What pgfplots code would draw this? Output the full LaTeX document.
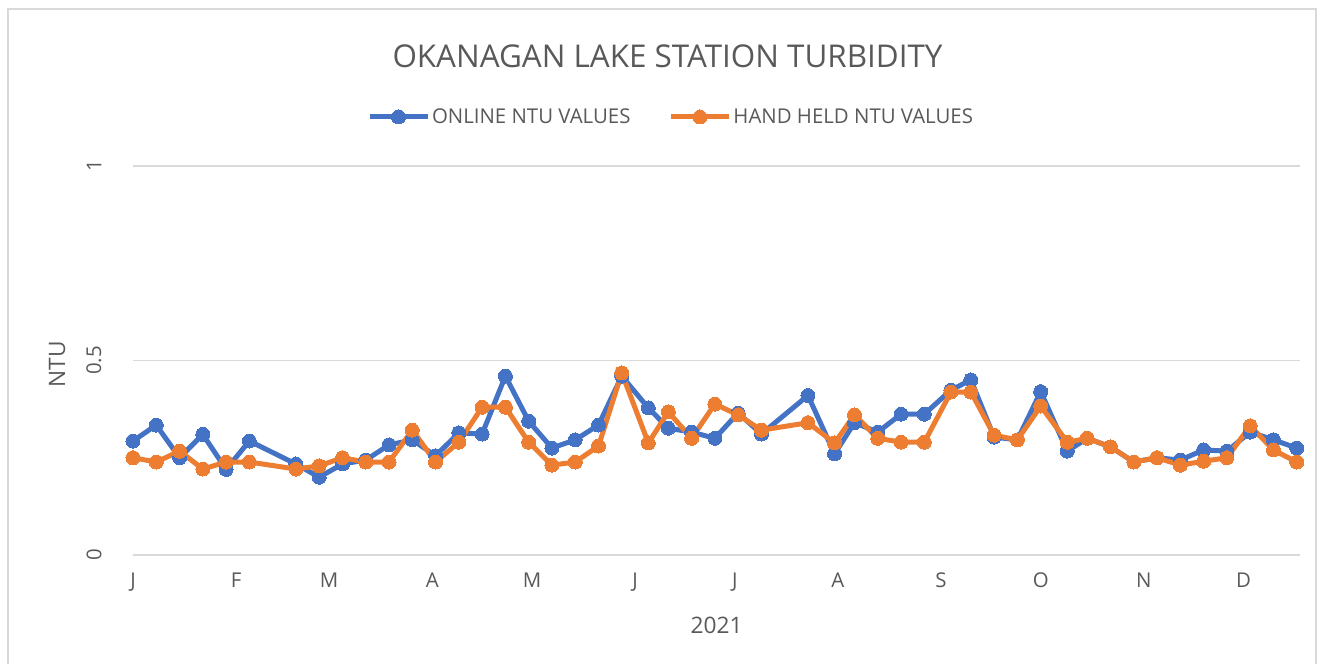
\documentclass[border=0pt]{standalone}
\usepackage{pgfplots}
\usepackage{pgfplotstable}
\pgfplotsset{compat=1.18}
\usepackage{fontspec}
\setmainfont{Open Sans}
\definecolor{cblue}{HTML}{4472C4}
\definecolor{corange}{HTML}{ED7D31}
\definecolor{ctext}{HTML}{595959}
\definecolor{cgrid}{HTML}{D9D9D9}

\pgfplotstableread{
day online
0   0.293
7   0.334
14  0.250
21  0.310
28  0.220
35  0.293
49  0.234
56  0.200
63  0.234
70  0.244
77  0.283
84  0.296
91  0.255
98  0.314
105 0.311
112 0.460
119 0.344
126 0.275
133 0.296
140 0.334
147 0.460
155 0.378
161 0.326
168 0.316
175 0.300
182 0.365
189 0.311
203 0.410
211 0.260
217 0.340
224 0.316
231 0.362
238 0.362
246 0.424
252 0.450
259 0.303
266 0.296
273 0.420
281 0.267
287 0.300
294 0.278
301 0.239
308 0.250
315 0.244
322 0.270
329 0.267
336 0.316
343 0.296
350 0.275
}\onlinetable

\pgfplotstableread{
day hand
0   0.250
7   0.239
14  0.267
21  0.221
28  0.239
35  0.239
49  0.221
56  0.229
63  0.250
70  0.239
77  0.239
84  0.321
91  0.239
98  0.290
105 0.380
112 0.380
119 0.290
126 0.231
133 0.239
140 0.280
147 0.468
155 0.288
161 0.368
168 0.300
175 0.388
182 0.360
189 0.321
203 0.340
211 0.288
217 0.360
224 0.300
231 0.290
238 0.290
246 0.419
252 0.419
259 0.308
266 0.296
273 0.383
281 0.290
287 0.300
294 0.278
301 0.239
308 0.250
315 0.231
322 0.241
329 0.250
336 0.332
343 0.270
350 0.239
}\handtable

\begin{document}
\begin{tikzpicture}
\useasboundingbox (0pt,0pt) rectangle (1325pt,664pt);
\draw[cgrid, line width=1.8pt] (8pt,0pt)--(8pt,655pt)--(1316pt,655pt)--(1316pt,0pt);
\begin{axis}[
  at={(133pt,109pt)}, anchor=south west,
  scale only axis, width=1167pt, height=389pt,
  xmin=0, xmax=351, ymin=0, ymax=1,
  clip=false,
  axis line style={draw=none},
  tick style={draw=none},
  major tick length=0pt,
  ymajorgrids,
  grid style={cgrid, line width=1.5pt},
  xtick={0,31,59,90,120,151,181,212,243,273,304,334},
  xticklabels={J,F,M,A,M,J,J,A,S,O,N,D},
  ytick={0,0.5,1},
  /pgf/number format/assume math mode=true,
  ticklabel style={font=\fontsize{20.4}{24}\selectfont, text=ctext},
  yticklabel style={xshift=-3pt, rotate=90, anchor=south},
  yticklabel shift=25pt,
  xticklabel shift=14pt,
  xlabel={2021},
  ylabel={NTU},
  label style={font=\fontsize{22.7}{27}\selectfont, text=ctext},
  xlabel style={at={(axis description cs:0.5,-0.18)}, anchor=center},
  ylabel style={at={(axis description cs:-0.0651,0.49)}, anchor=center, rotate=0},
  title={OKANAGAN LAKE STATION TURBIDITY},
  title style={at={(axis description cs:0.458,1.267)}, anchor=center, font=\fontsize{31.4}{36}\selectfont, text=ctext},
  legend style={at={(axis description cs:0.461,1.126)}, anchor=center, draw=none, fill=none,
    font=\fontsize{20.4}{24}\selectfont, text=ctext,
    /tikz/every even column/.append style={column sep=36pt},
    nodes={inner sep=2pt}},
  legend columns=2,
  legend image code/.code={\draw[#1, mark repeat=2, mark phase=2] plot coordinates {(0pt,0pt) (29pt,0pt) (58pt,0pt)};},
]
\addplot[cblue, line width=5pt, mark=*, mark size=7pt, mark options={line width=0pt}] table[x=day, y=online] {\onlinetable};
\addlegendentry{ONLINE NTU VALUES}
\addplot[corange, line width=5pt, mark=*, mark size=7pt, mark options={line width=0pt}] table[x=day, y=hand] {\handtable};
\addlegendentry{HAND HELD NTU VALUES}
\end{axis}
\end{tikzpicture}
\end{document}
